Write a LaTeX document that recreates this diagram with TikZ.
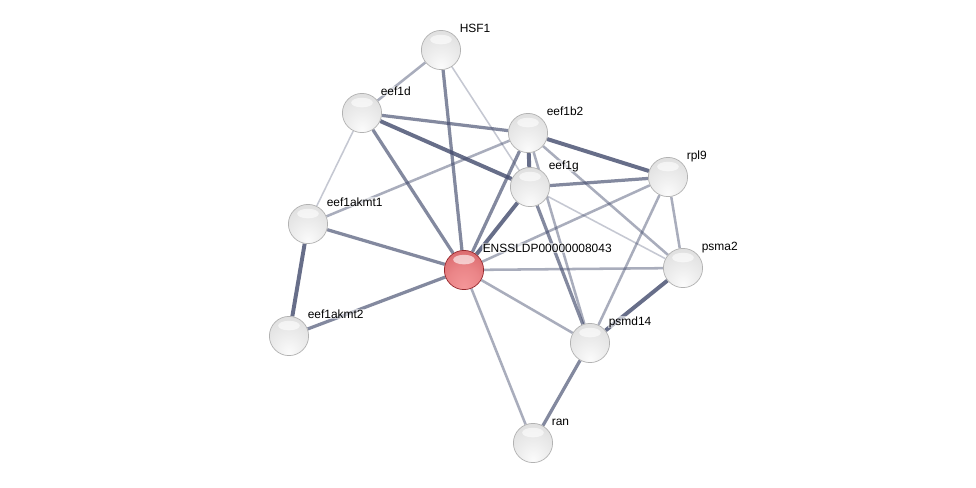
\documentclass[tikz,border=0pt]{standalone}
\usepackage{fontspec}
\setmainfont{Liberation Sans}
\usetikzlibrary{shapes, positioning}
\pgfdeclarelayer{background}
\pgfsetlayers{background,main}
\definecolor{enlace}{RGB}{66,74,108}
\definecolor{rojoclaro}{RGB}{244,150,152}
\definecolor{rojomedio}{RGB}{212,94,98}
\definecolor{rojooscuro}{RGB}{150,40,45}
\pgfdeclareradialshading{bolagris}{\pgfpoint{0bp}{-22bp}}{color(0bp)=(gray!3); color(18bp)=(gray!14); color(42bp)=(gray!28); color(62bp)=(gray!45); color(75bp)=(gray!62)}
\pgfdeclareradialshading{bolaroja}{\pgfpoint{0bp}{-22bp}}{color(0bp)=(rojoclaro); color(20bp)=(rojoclaro!70!rojomedio); color(45bp)=(rojomedio); color(62bp)=(rojomedio!70!rojooscuro); color(75bp)=(rojooscuro)}
\tikzstyle{proteina} = [circle, minimum size=0.98cm, inner sep=0pt, shading=bolagris, draw=gray!60, line width=0.5pt,
	path picture={\fill[white, opacity=0.6] ([yshift=0.26cm]path picture bounding box.center) ellipse (0.27cm and 0.12cm);}]
\tikzstyle{semilla} = [proteina, shading=bolaroja, draw=rojooscuro]
\tikzstyle{nombre} = [font=\fontsize{8.5}{10}\selectfont, anchor=base west, label distance=0.13cm, inner sep=0.5pt, fill=white, fill opacity=0.6, text opacity=1]
\tikzstyle{fuerte} = [draw=enlace, line width=2.8pt, draw opacity=0.8]
\tikzstyle{medio} = [draw=enlace, line width=2.3pt, draw opacity=0.65]
\tikzstyle{debil} = [draw=enlace, line width=1.8pt, draw opacity=0.45]
\tikzstyle{tenue} = [draw=enlace, line width=1.1pt, draw opacity=0.3]

\begin{document}
\begin{tikzpicture}[x=0.025cm, y=-0.025cm]
	\useasboundingbox (0,0) rectangle (976,488);
	% proteinas
	\node[proteina, label={[nombre]45:HSF1}] (hsf1) at (441,50) {};
	\node[proteina, label={[nombre]45:eef1d}] (eef1d) at (362,113) {};
	\node[proteina, label={[nombre]45:eef1b2}] (eef1b2) at (528,133) {};
	\node[proteina, label={[nombre]45:eef1g}] (eef1g) at (530,187) {};
	\node[proteina, label={[nombre]45:rpl9}] (rpl9) at (668,177) {};
	\node[proteina, label={[nombre]45:eef1akmt1}] (akmt1) at (308,224) {};
	\node[semilla, label={[nombre]45:ENSSLDP00000008043}] (enss) at (464,270) {};
	\node[proteina, label={[nombre]45:psma2}] (psma2) at (683,268) {};
	\node[proteina, label={[nombre]45:eef1akmt2}] (akmt2) at (289,336) {};
	\node[proteina, label={[nombre]45:psmd14}] (psmd14) at (590,343) {};
	\node[proteina, label={[nombre]45:ran}] (ran) at (533,443) {};
	% enlaces
	\begin{pgfonlayer}{background}
		\fill[white] (0,0) rectangle (976,488);
		\draw[debil] (hsf1) -- (eef1d);
		\draw[medio] (hsf1) -- (enss);
		\draw[tenue] (hsf1) -- (eef1g);
		\draw[tenue] (eef1d) -- (akmt1);
		\draw[medio] (eef1d) -- (enss);
		\draw[medio] (eef1d) -- (eef1b2);
		\draw[fuerte] (eef1d) -- (eef1g);
		\draw[fuerte] (eef1b2) -- (eef1g);
		\draw[fuerte] (eef1b2) -- (rpl9);
		\draw[medio] (eef1b2) -- (enss);
		\draw[debil] (eef1b2) -- (akmt1);
		\draw[debil] (eef1b2) -- (psma2);
		\draw[debil] (eef1b2) -- (psmd14);
		\draw[medio] (eef1g) -- (rpl9);
		\draw[fuerte] (eef1g) -- (enss);
		\draw[medio] (eef1g) -- (psmd14);
		\draw[tenue] (eef1g) -- (psma2);
		\draw[debil] (rpl9) -- (enss);
		\draw[debil] (rpl9) -- (psmd14);
		\draw[debil] (rpl9) -- (psma2);
		\draw[medio] (enss) -- (akmt1);
		\draw[medio] (enss) -- (akmt2);
		\draw[debil] (enss) -- (psma2);
		\draw[debil] (enss) -- (psmd14);
		\draw[debil] (enss) -- (ran);
		\draw[fuerte] (akmt1) -- (akmt2);
		\draw[fuerte] (psma2) -- (psmd14);
		\draw[medio] (psmd14) -- (ran);
	\end{pgfonlayer}
\end{tikzpicture}
\end{document}
